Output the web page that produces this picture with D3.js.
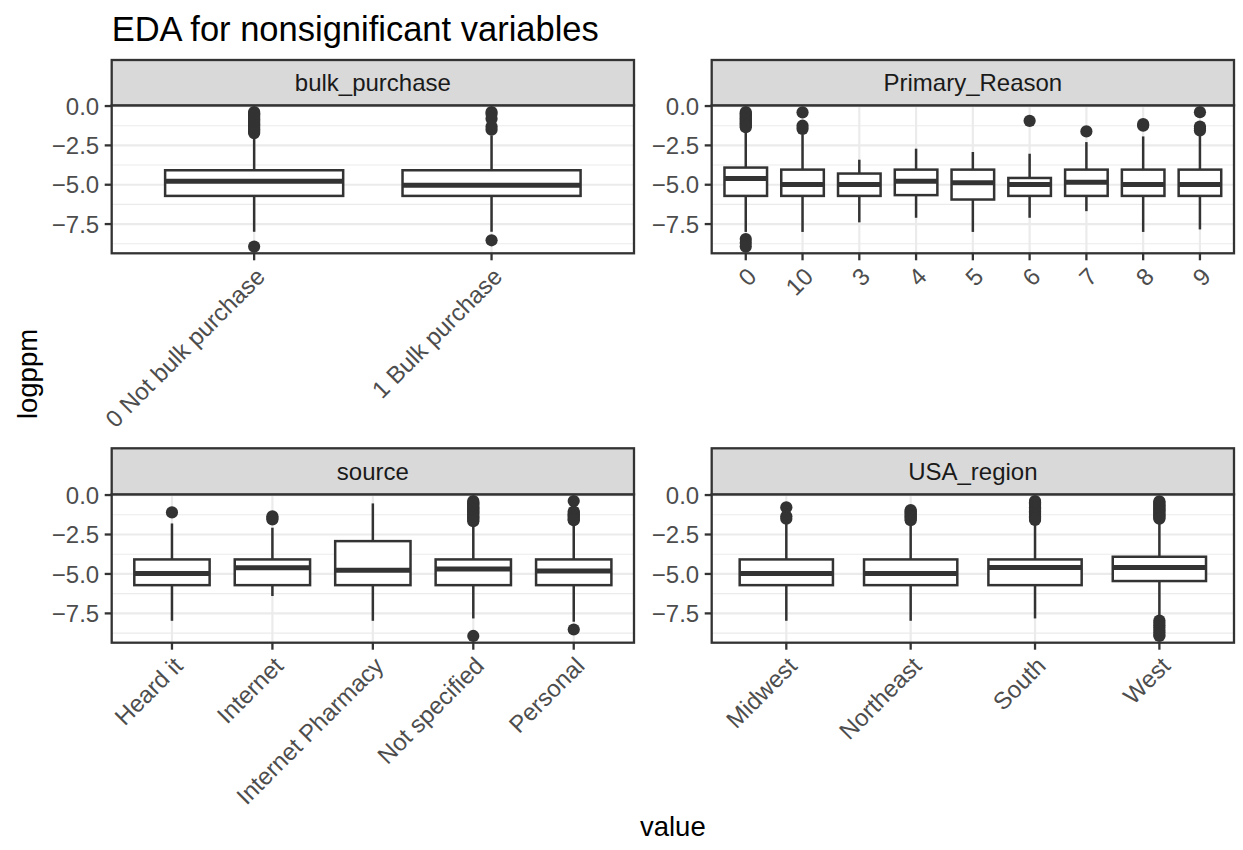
<!DOCTYPE html>
<html>
<head>
<meta charset="utf-8">
<script src="https://cdn.jsdelivr.net/npm/d3@7"></script>
<style>
  body { margin: 0; background: #ffffff; }
  text { font-family: "Liberation Sans", Arial, Helvetica, sans-serif; }
</style>
</head>
<body>
<svg id="chart" width="1243" height="850"></svg>
<script>
// ---- data: five-number summaries [lower whisker, Q1, median, Q3, upper whisker] and outliers (logppm)
const bulkCats = ["0 Not bulk purchase", "1 Bulk purchase"];
const bulkStats = [
  [-7.99, -5.71, -4.78, -4.08, -1.80],
  [-7.99, -5.71, -5.03, -4.08, -1.87]
];
const bulkOutliers = [
  [-0.38, -0.45, -0.52, -0.60, -0.68, -0.76, -0.84, -0.92, -1.00, -1.08, -1.16, -1.24, -1.32, -1.40, -1.48, -1.56, -1.64, -1.72, -8.93],
  [-0.38, -0.50, -0.80, -1.30, -1.50, -8.53]
];

const reasonCats = ["0", "10", "3", "4", "5", "6", "7", "8", "9"];
const reasonStats = [
  [-8.00, -5.71, -4.61, -3.91, -1.50],
  [-8.00, -5.71, -4.99, -4.04, -1.80],
  [-7.39, -5.71, -4.99, -4.29, -3.41],
  [-7.10, -5.66, -4.78, -4.04, -2.71],
  [-8.00, -5.94, -4.88, -4.04, -2.92],
  [-7.10, -5.71, -4.99, -4.57, -3.03],
  [-6.68, -5.71, -4.84, -4.04, -2.29],
  [-8.00, -5.71, -4.99, -4.04, -1.93],
  [-7.84, -5.71, -4.99, -4.04, -1.87]
];
const reasonOutliers = [
  [-0.38, -0.46, -0.54, -0.62, -0.70, -0.78, -0.86, -0.94, -1.02, -1.10, -1.18, -1.26, -1.34, -8.45, -8.68, -8.93],
  [-0.40, -1.25, -1.45],
  [],
  [],
  [],
  [-0.94],
  [-1.61],
  [-1.15, -1.25],
  [-0.39, -1.30, -1.42, -1.55]
];

const sourceCats = ["Heard it", "Internet", "Internet Pharmacy", "Not specified", "Personal"];
const sourceStats = [
  [-7.97, -5.71, -4.97, -4.08, -1.80],
  [-6.40, -5.71, -4.61, -4.08, -2.07],
  [-7.97, -5.71, -4.76, -2.92, -0.53],
  [-7.82, -5.71, -4.69, -4.08, -1.84],
  [-8.03, -5.71, -4.82, -4.08, -1.84]
];
const sourceOutliers = [
  [-1.10],
  [-1.35, -1.45, -1.55],
  [],
  [-0.38, -0.46, -0.54, -0.62, -0.70, -0.78, -0.86, -0.94, -1.02, -1.10, -1.18, -1.26, -1.34, -1.42, -1.50, -1.58, -1.66, -8.93],
  [-0.38, -1.05, -1.13, -1.21, -1.29, -1.37, -1.45, -1.53, -1.60, -8.52]
];

const regionCats = ["Midwest", "Northeast", "South", "West"];
const regionStats = [
  [-7.97, -5.71, -4.97, -4.08, -1.69],
  [-7.97, -5.71, -4.97, -4.08, -1.72],
  [-7.82, -5.71, -4.59, -4.08, -1.72],
  [-7.76, -5.45, -4.59, -3.91, -1.59]
];
const regionOutliers = [
  [-0.78, -1.35, -1.50],
  [-0.95, -1.03, -1.11, -1.19, -1.27, -1.35, -1.43, -1.51, -1.59],
  [-0.38, -0.46, -0.54, -0.62, -0.70, -0.78, -0.86, -0.94, -1.02, -1.10, -1.18, -1.26, -1.34, -1.42, -1.50, -1.58],
  [-0.40, -0.48, -0.56, -0.64, -0.72, -0.80, -0.88, -0.96, -1.04, -1.12, -1.20, -1.28, -1.36, -1.44, -1.50,
   -7.95, -8.10, -8.25, -8.40, -8.55, -8.70, -8.85, -8.93]
];

const yTickValues = [0, -2.5, -5, -7.5];
const yTickLabels = ["0.0", "\u22122.5", "\u22125.0", "\u22127.5"];
const yMinorValues = [-1.25, -3.75, -6.25, -8.75];

const facets = [
  { title: "bulk_purchase", cats: bulkCats, stats: bulkStats, outliers: bulkOutliers },
  { title: "Primary_Reason", cats: reasonCats, stats: reasonStats, outliers: reasonOutliers },
  { title: "source", cats: sourceCats, stats: sourceStats, outliers: sourceOutliers },
  { title: "USA_region", cats: regionCats, stats: regionStats, outliers: regionOutliers }
];

// ---- layout
const colX = [[111.7, 634], [711.7, 1234]];
const rowY = [{ strip: 60, top: 105.3, bottom: 253.3 }, { strip: 448.3, top: 494.3, bottom: 642.7 }];
const ink = "#333333";
const gridCol = "#EBEBEB";
const tickFont = 24;
const boxW = 2.5;
const frameW = 2.3;

// shared y scale with 5% expansion of the data range (same across facets)
const allVals = facets.flatMap(f => f.stats.flat().concat(f.outliers.flat()));
const [ymin, ymax] = d3.extent(allVals);
const ypad = (ymax - ymin) * 0.05;

const svg = d3.select("#chart");

facets.forEach((f, i) => {
  const col = i % 2, row = Math.floor(i / 2);
  const [x0, x1] = colX[col];
  const R = rowY[row];
  const g = svg.append("g");

  const y = d3.scaleLinear().domain([ymin - ypad, ymax + ypad]).range([R.bottom, R.top]);
  const x = d3.scalePoint().domain(f.cats).range([x0, x1]).padding(0.6);
  const bw = x.step() * 0.75;

  // panel background grid
  g.selectAll("line.minor").data(yMinorValues).join("line")
    .attr("x1", x0).attr("x2", x1).attr("y1", d => y(d)).attr("y2", d => y(d))
    .attr("stroke", gridCol).attr("stroke-width", 1.1);
  g.selectAll("line.major").data(yTickValues).join("line")
    .attr("x1", x0).attr("x2", x1).attr("y1", d => y(d)).attr("y2", d => y(d))
    .attr("stroke", gridCol).attr("stroke-width", 2.2);
  g.selectAll("line.vmajor").data(f.cats).join("line")
    .attr("x1", d => x(d)).attr("x2", d => x(d)).attr("y1", R.top).attr("y2", R.bottom)
    .attr("stroke", gridCol).attr("stroke-width", 2.2);

  // boxes
  const box = g.selectAll("g.box").data(f.cats.map((c, j) => ({ c, s: f.stats[j], o: f.outliers[j] })))
    .join("g");
  box.append("line")
    .attr("x1", d => x(d.c)).attr("x2", d => x(d.c))
    .attr("y1", d => y(d.s[4])).attr("y2", d => y(d.s[3]))
    .attr("stroke", ink).attr("stroke-width", boxW);
  box.append("line")
    .attr("x1", d => x(d.c)).attr("x2", d => x(d.c))
    .attr("y1", d => y(d.s[1])).attr("y2", d => y(d.s[0]))
    .attr("stroke", ink).attr("stroke-width", boxW);
  box.append("rect")
    .attr("x", d => x(d.c) - bw / 2).attr("width", bw)
    .attr("y", d => y(d.s[3])).attr("height", d => y(d.s[1]) - y(d.s[3]))
    .attr("fill", "#ffffff").attr("stroke", ink).attr("stroke-width", boxW);
  box.append("line")
    .attr("x1", d => x(d.c) - bw / 2).attr("x2", d => x(d.c) + bw / 2)
    .attr("y1", d => y(d.s[2])).attr("y2", d => y(d.s[2]))
    .attr("stroke", ink).attr("stroke-width", 5);
  box.selectAll("circle").data(d => d.o.map(v => ({ c: d.c, v }))).join("circle")
    .attr("cx", d => x(d.c)).attr("cy", d => y(d.v)).attr("r", 6.1)
    .attr("fill", ink);

  // panel border
  g.append("rect").attr("x", x0).attr("y", R.top).attr("width", x1 - x0).attr("height", R.bottom - R.top)
    .attr("fill", "none").attr("stroke", ink).attr("stroke-width", frameW);

  // strip
  g.append("rect").attr("x", x0).attr("y", R.strip).attr("width", x1 - x0).attr("height", R.top - R.strip)
    .attr("fill", "#D9D9D9").attr("stroke", ink).attr("stroke-width", frameW);
  g.append("text").attr("x", (x0 + x1) / 2).attr("y", (R.strip + R.top) / 2).attr("dy", "0.35em")
    .attr("text-anchor", "middle").attr("font-size", tickFont).attr("fill", "#1A1A1A")
    .text(f.title);

  // y axis
  const yAxis = g.append("g");
  yAxis.selectAll("line").data(yTickValues).join("line")
    .attr("x1", x0 - 7).attr("x2", x0).attr("y1", d => y(d)).attr("y2", d => y(d))
    .attr("stroke", ink).attr("stroke-width", frameW);
  yAxis.selectAll("text").data(yTickValues).join("text")
    .attr("x", x0 - 12.5).attr("y", d => y(d)).attr("dy", "0.36em")
    .attr("text-anchor", "end").attr("font-size", tickFont).attr("fill", "#4D4D4D")
    .text((d, k) => yTickLabels[k]);

  // x axis
  const xAxis = g.append("g");
  xAxis.selectAll("line").data(f.cats).join("line")
    .attr("x1", d => x(d)).attr("x2", d => x(d)).attr("y1", R.bottom).attr("y2", R.bottom + 7)
    .attr("stroke", ink).attr("stroke-width", frameW);
  xAxis.selectAll("text").data(f.cats).join("text")
    .attr("transform", d => `translate(${x(d)},${R.bottom + 12.5}) rotate(-45)`)
    .attr("dy", "0.72em")
    .attr("text-anchor", "end").attr("font-size", tickFont).attr("fill", "#4D4D4D")
    .text(d => d);
});

// titles
svg.append("text").attr("x", 111.7).attr("y", 41).attr("font-size", 34.5).attr("fill", "#000")
  .text("EDA for nonsignificant variables");
svg.append("text").attr("transform", "translate(37,374) rotate(-90)")
  .attr("text-anchor", "middle").attr("font-size", 27.5).attr("fill", "#000").text("logppm");
svg.append("text").attr("x", (111.7 + 1234) / 2).attr("y", 836)
  .attr("text-anchor", "middle").attr("font-size", 27.5).attr("fill", "#000").text("value");
</script>
</body>
</html>
